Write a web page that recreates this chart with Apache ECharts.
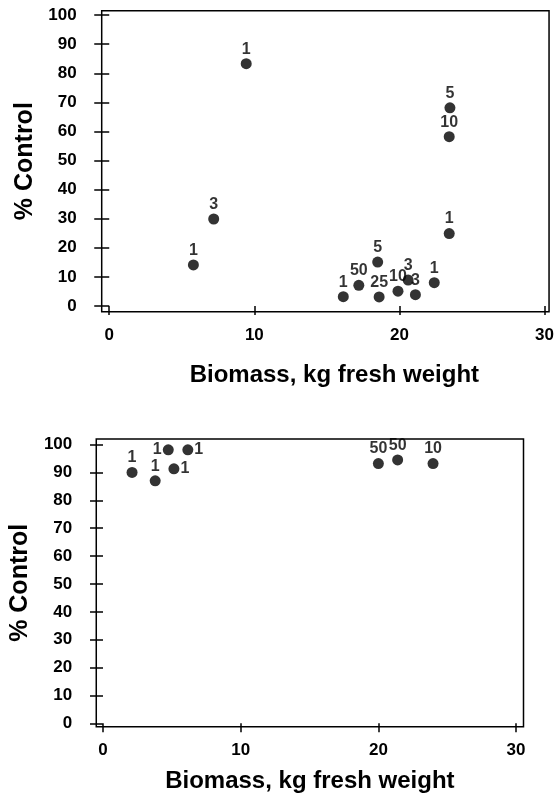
<!DOCTYPE html>
<html>
<head>
<meta charset="utf-8">
<script src="https://cdn.jsdelivr.net/npm/echarts@6/dist/echarts.min.js"></script>
<style>
html,body{margin:0;padding:0;background:#fff;}
#chart{width:557px;height:797px;}
</style>
</head>
<body>
<div id="chart"></div>
<script>
// ---- data ----
var topX      = [9.44, 7.2, 5.8, 23.48, 23.43, 23.43, 16.13, 17.2, 18.5, 18.6, 19.9, 20.6, 21.1, 22.4];
var topY      = [83.3, 29.9, 14.1, 68.1, 58.2, 24.9, 3.2, 7.1, 15.1, 3.1, 5.1, 8.9, 3.9, 8.0];
var topLabels = ['1', '3', '1', '5', '10', '1', '1', '50', '5', '25', '10', '3', '3', '1'];

var botX      = [2.11, 3.79, 4.74, 5.15, 6.16, 20.0, 21.4, 23.97];
var botY      = [90.0, 87.0, 98.1, 91.3, 98.1, 93.2, 94.5, 93.2];
var botLabels = ['1', '1', '1', '1', '1', '50', '50', '10'];

var xTicks = [0, 10, 20, 30];
var yTicks = [0, 10, 20, 30, 40, 50, 60, 70, 80, 90, 100];
var xTitle = 'Biomass, kg fresh weight';
var yTitle = '% Control';

// ---- build ----
var FONT = 'Liberation Sans';
var botLabelPos = ['top', 'top', 'left', 'right', 'right', 'top', 'top', 'top'];

function pts(xs, ys, labs, pos) {
  return xs.map(function (x, i) {
    var d = { value: [x, ys[i]], name: labs[i] };
    if (pos) d.label = { position: pos[i] };
    return d;
  });
}

function xAxis(gi, min, max, gap, pad) {
  return {
    type: 'value', gridIndex: gi, min: min, max: max,
    name: xTitle, nameLocation: 'middle', nameGap: gap,
    nameTextStyle: { fontFamily: FONT, fontSize: 24, fontWeight: 'bold', color: '#000', padding: pad },
    axisLine: { show: false },
    axisTick: { show: true, length: 9, inside: false, customValues: xTicks, lineStyle: { color: '#000', width: 1.5 } },
    axisLabel: { customValues: xTicks, margin: 15, fontFamily: FONT, fontSize: 17, fontWeight: 'bold', color: '#000' },
    splitLine: { show: false }
  };
}
function yAxis(gi, min, max, gap, tickLen, margin) {
  return {
    type: 'value', gridIndex: gi, min: min, max: max,
    name: yTitle, nameLocation: 'middle', nameGap: gap,
    nameTextStyle: { fontFamily: FONT, fontSize: 25, fontWeight: 'bold', color: '#000' },
    axisLine: { show: false },
    axisTick: { show: true, length: tickLen, inside: false, customValues: yTicks, lineStyle: { color: '#000', width: 1.5 } },
    axisLabel: { customValues: yTicks, margin: margin, fontFamily: FONT, fontSize: 17, fontWeight: 'bold', color: '#000' },
    splitLine: { show: false }
  };
}
function series(i, data) {
  return {
    type: 'scatter', xAxisIndex: i, yAxisIndex: i,
    symbol: 'circle', symbolSize: 11,
    itemStyle: { color: '#000' },
    label: {
      show: true, position: 'top', distance: 1,
      formatter: function (p) { return p.name; },
      fontFamily: FONT, fontSize: 16, fontWeight: 'bold', color: '#000'
    },
    data: data
  };
}

var chart = echarts.init(document.getElementById('chart'), null, { renderer: 'canvas' });
chart.setOption({
  backgroundColor: '#fff',
  animation: false,
  grid: [
    { left: 101.7, top: 10.7, width: 451, height: 301, show: true, borderColor: '#000', borderWidth: 1.5, backgroundColor: 'transparent' },
    { left: 95.5, top: 439, width: 428, height: 287.7, show: true, borderColor: '#000', borderWidth: 1.5, backgroundColor: 'transparent' }
  ],
  xAxis: [
    xAxis(0, -0.52, 30.31, 52, [0, 0, 0, 18]),
    xAxis(1, -0.49, 30.54, 43, [0, 0, 0, 0])
  ],
  yAxis: [
    yAxis(0, -1.96, 101.5, 64, 15, 25),
    yAxis(1, -1.2, 102.0, 62, 13, 24)
  ],
  series: [
    series(0, pts(topX, topY, topLabels)),
    series(1, pts(botX, botY, botLabels, botLabelPos))
  ]
});
</script>
</body>
</html>
